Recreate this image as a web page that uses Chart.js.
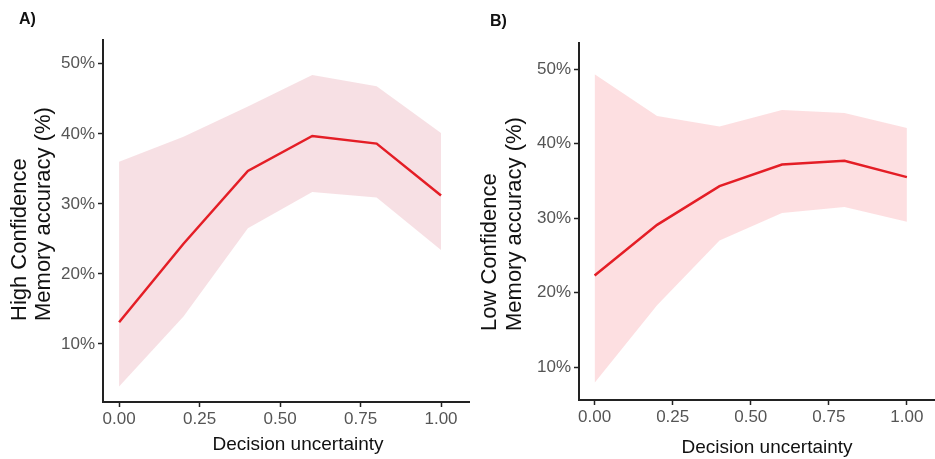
<!DOCTYPE html>
<html>
<head>
<meta charset="utf-8">
<script src="https://cdn.jsdelivr.net/npm/chart.js@4/dist/chart.umd.min.js"></script>
<style>
  body { margin: 0; background: #fff; font-family: "Liberation Sans", Arial, sans-serif; }
  .panel { position: absolute; top: 0; width: 470px; height: 459px; }
  .tag { position: absolute; font-weight: bold; font-size: 16px; color: #111; }
</style>
</head>
<body>
<div class="panel" style="left:0"><canvas id="chartA" width="470" height="459"></canvas></div>
<div class="panel" style="left:465px"><canvas id="chartB" width="470" height="459"></canvas></div>
<div class="tag" style="left:19px;top:10px">A)</div>
<div class="tag" style="left:490px;top:12px">B)</div>
<script>
// decision uncertainty levels where the model was evaluated
const uncertainty = [0, 0.2, 0.4, 0.6, 0.8, 1.0];
const xTicks = [0, 0.25, 0.5, 0.75, 1.0];
const yTicks = [10, 20, 30, 40, 50];

// A) high confidence memory accuracy (%)
const highMean  = [13.1, 24.3, 34.7, 39.7, 38.6, 31.2];
const highUpper = [36.0, 39.6, 43.9, 48.4, 46.8, 40.1];
const highLower = [3.9, 13.9, 26.5, 31.7, 30.9, 23.4];

// B) low confidence memory accuracy (%)
const lowMean  = [22.3, 29.1, 34.3, 37.2, 37.7, 35.5];
const lowUpper = [49.3, 43.7, 42.3, 44.5, 44.1, 42.1];
const lowLower = [7.9, 18.3, 27.0, 30.7, 31.5, 29.5];

const FONT = '"Liberation Sans", Arial, sans-serif';
const pts = ys => uncertainty.map((x, i) => ({ x: x, y: ys[i] }));

// axis titles drawn by hand so they sit where the ggplot original put them
const axisTitles = {
  id: 'axisTitles',
  afterDraw(chart, args, o) {
    const ctx = chart.ctx;
    ctx.save();
    ctx.fillStyle = '#111';
    ctx.textBaseline = 'middle';
    ctx.font = '19px ' + FONT;
    ctx.textAlign = 'center';
    ctx.fillText(o.xTitle, o.xTitleX, o.xTitleY);
    ctx.font = '22px ' + FONT;
    ctx.textAlign = 'left';
    o.yTitle.forEach((line, i) => {
      ctx.save();
      ctx.translate(o.yTitleX[i], o.yTitleBottom);
      ctx.rotate(-Math.PI / 2);
      ctx.fillText(line, 0, 0);
      ctx.restore();
    });
    ctx.restore();
  }
};

function makeChart(id, cfg) {
  const axisColor = '#222';
  new Chart(document.getElementById(id), {
    type: 'line',
    data: {
      datasets: [
        { data: pts(cfg.mean), borderColor: '#e41e26', borderWidth: 2.5, pointRadius: 0, fill: false },
        { data: pts(cfg.lower), borderWidth: 0, pointRadius: 0, fill: false },
        { data: pts(cfg.upper), borderWidth: 0, pointRadius: 0, fill: '-1', backgroundColor: cfg.band }
      ]
    },
    plugins: [axisTitles],
    options: {
      responsive: false,
      animation: false,
      layout: { padding: { top: cfg.top, right: 0, bottom: 0, left: 0 } },
      plugins: {
        legend: { display: false },
        tooltip: { enabled: false },
        axisTitles: {
          xTitle: 'Decision uncertainty', xTitleX: cfg.xTitleX, xTitleY: cfg.xTitleY,
          yTitle: cfg.yTitle, yTitleX: cfg.yTitleX, yTitleBottom: cfg.yTitleBottom
        }
      },
      scales: {
        x: {
          type: 'linear',
          min: -0.05, max: 1.09,
          afterBuildTicks: s => { s.ticks = xTicks.map(v => ({ value: v })); },
          afterFit: s => { s.height = cfg.xHeight; },
          border: { display: true, color: axisColor, width: 2 },
          grid: { drawOnChartArea: false, drawTicks: true, tickLength: 5, tickColor: axisColor, tickWidth: 1.5 },
          ticks: {
            color: '#555', padding: 2,
            font: { family: FONT, size: 17 },
            callback: v => v.toFixed(2)
          }
        },
        y: {
          min: cfg.yMin, max: cfg.yMax,
          afterBuildTicks: s => { s.ticks = yTicks.map(v => ({ value: v })); },
          afterFit: s => { s.width = cfg.yWidth; },
          border: { display: true, color: axisColor, width: 2 },
          grid: { drawOnChartArea: false, drawTicks: true, tickLength: 5, tickColor: axisColor, tickWidth: 1.5 },
          ticks: {
            color: '#555', padding: 3,
            font: { family: FONT, size: 17 },
            callback: v => v + '%'
          }
        }
      }
    }
  });
}

makeChart('chartA', {
  mean: highMean, upper: highUpper, lower: highLower,
  band: 'rgba(244, 214, 219, 0.75)',
  top: 40, xHeight: 57, yWidth: 103, yMin: 1.7, yMax: 53.4,
  xTitleX: 298, xTitleY: 445,
  yTitle: ['High Confidence', 'Memory accuracy (%)'], yTitleX: [20, 44], yTitleBottom: 321
});

makeChart('chartB', {
  mean: lowMean, upper: lowUpper, lower: lowLower,
  band: 'rgba(252, 210, 212, 0.7)',
  top: 43, xHeight: 59, yWidth: 114, yMin: 5.6, yMax: 53.5,
  xTitleX: 302, xTitleY: 448,
  yTitle: ['Low Confidence', 'Memory accuracy (%)'], yTitleX: [25, 50], yTitleBottom: 331
});
</script>
</body>
</html>
